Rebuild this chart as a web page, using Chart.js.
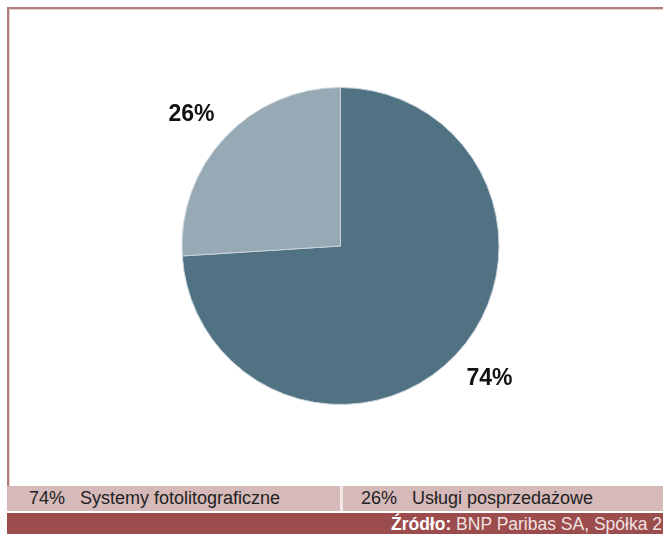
<!DOCTYPE html>
<html><head><meta charset="utf-8">
<script src="https://cdn.jsdelivr.net/npm/chart.js@4/dist/chart.umd.min.js"></script>
<style>
html,body{margin:0;padding:0;width:663px;height:534px;overflow:hidden;background:#fff;}
#frame{position:absolute;left:7px;top:7px;width:700px;height:479px;border-left:2px solid #b27c7c;border-top:2px solid #b27c7c;box-sizing:border-box;}
#frame:after{content:"";position:absolute;left:0;top:0;right:0;bottom:0;border-left:1px solid #e9d2d2;border-top:1px solid #e9d2d2;}
#legend{position:absolute;left:7px;top:486px;width:700px;height:25px;background:#d6b9b9;font-family:"Liberation Sans",sans-serif;font-size:18px;color:#222;}
#legend .it{position:absolute;top:2px;white-space:pre;}
#div{position:absolute;left:340px;top:486px;width:3px;height:25px;background:#f3e9e9;}
#foot{position:absolute;left:7px;top:513px;width:656px;height:21px;background:#9b4c4c;overflow:hidden;}
#foot span{position:absolute;right:1px;top:1px;white-space:nowrap;font-family:"Liberation Sans",sans-serif;font-size:17.5px;color:#f1e2e2;}
#c{position:absolute;left:0;top:0;}
</style></head>
<body>
<div id="frame"></div>
<div id="legend"><span class="it" id="l1" style="left:22px"></span><span class="it" id="l2" style="left:354px"></span></div>
<div id="div"></div>
<div id="foot"><span><b style="color:#fff">Źródło:</b> BNP Paribas SA, Spółka 2</span></div>
<canvas id="c" width="663" height="534"></canvas>
<script>
const categories = ["Systemy fotolitograficzne", "Usługi posprzedażowe"];
const values = [74, 26];
const valueLabels = ["74%", "26%"];
const colors = ["#507282", "#97a9b5"];

document.getElementById('l1').textContent = valueLabels[0] + "   " + categories[0];
document.getElementById('l2').textContent = valueLabels[1] + "   " + categories[1];

const outLabels = {
  id: 'outLabels',
  afterDatasetsDraw(chart) {
    const ctx = chart.ctx;
    const meta = chart.getDatasetMeta(0);
    ctx.save();
    ctx.font = 'bold 23px "Liberation Sans", Arial, sans-serif';
    ctx.fillStyle = '#111';
    ctx.textAlign = 'center';
    ctx.textBaseline = 'middle';
    meta.data.forEach((arc, i) => {
      const p = arc.getProps(['x','y','startAngle','endAngle','outerRadius'], true);
      const mid = (p.startAngle + p.endAngle) / 2;
      const r = p.outerRadius * 1.24;
      ctx.fillText(valueLabels[i], p.x + Math.cos(mid) * r * 1.04, p.y + 1 + Math.sin(mid) * r * 0.98);
    });
    ctx.restore();
  }
};

new Chart(document.getElementById('c'), {
  type: 'pie',
  data: { labels: categories, datasets: [{ data: values, backgroundColor: colors, borderColor: '#c9d3da', borderWidth: 1 }] },
  options: {
    responsive: false,
    animation: false,
    layout: { padding: { left: 181, right: 163, top: 87, bottom: 129 } },
    plugins: { legend: { display: false }, tooltip: { enabled: false } }
  },
  plugins: [outLabels]
});
</script>
</body></html>
